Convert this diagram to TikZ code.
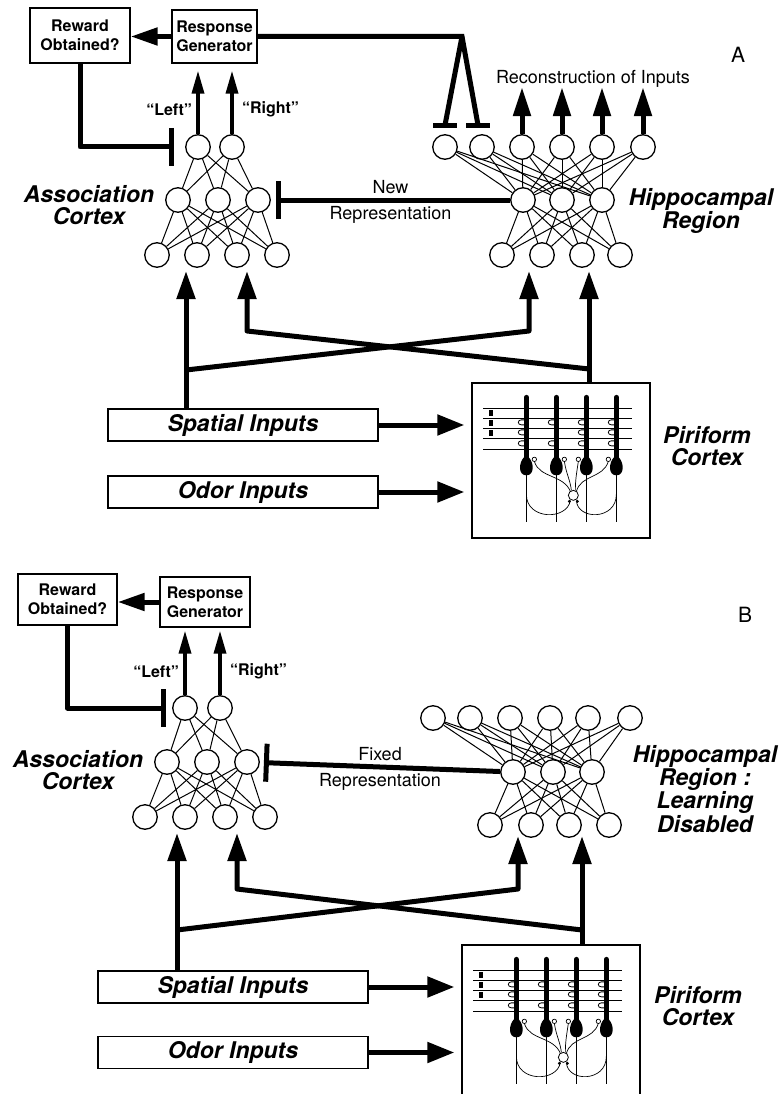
\documentclass[tikz,border=0pt]{standalone}
\usepackage{fontspec}
\setmainfont{TeX Gyre Heros}
\usetikzlibrary{arrows.meta}

\newcommand{\regionfont}{\fontsize{23}{22}\selectfont\bfseries\itshape}
\newcommand{\boxfont}{\fontsize{16}{19}\selectfont\bfseries}
\newcommand{\notefont}{\fontsize{18}{20}\selectfont}

\tikzset{
  unit/.style={circle, draw, line width=1.3pt, minimum size=24.5pt, inner sep=0pt},
  wire/.style={line width=1pt},
  heavy/.style={line width=5pt, line join=round},
  bigarrow/.style={heavy, -{Triangle[length=28pt, width=18pt]}},
  feedarrow/.style={heavy, shorten >=7pt, -{Triangle[length=27pt, width=20pt]}},
  outarrow/.style={line width=3.5pt, -{Triangle[length=23pt, width=12pt]}},
  inhib/.style={heavy, -{Bar[width=38pt]}},
  stage/.style={draw, line width=1.3pt, align=center, font=\boxfont, inner sep=0pt},
  inputbox/.style={draw, line width=1.3pt, minimum width=270pt, minimum height=32pt, inner sep=0pt, font=\regionfont},
  cortexbox/.style={draw, line width=1.3pt, minimum width=178pt, inner sep=0pt},
  region/.style={align=center, font=\regionfont, inner sep=0pt},
  note/.style={font=\notefont, inner sep=4pt},
  pics/cells/.style={code={
    % layers and input fibres
    \foreach \ly in {26,36,46,56} \draw[line width=0.7pt] (12,\ly) -- (161,\ly);
    \draw[line width=1.3pt] (12,67) -- (161,67);
    \foreach \ly in {28,38,48} \fill (18,\ly) rectangle (22,\ly+6);
    % pyramidal cells
    \foreach \cx in {55,85,115,145} {
      \draw[line width=5pt, line cap=round] (\cx,15) -- (\cx,80);
      \fill (\cx-2.5,75) -- (\cx+2.5,75) .. controls (\cx+8,81) and (\cx+8,93) .. (\cx,93) .. controls (\cx-8,93) and (\cx-8,81) .. (\cx-2.5,75) -- cycle;
      \draw[line width=0.8pt] (\cx,92) -- (\cx,140);
    }
    \foreach \cx/\hy in {55/40,55/50,55/61,85/40,85/61,115/40,115/50,115/61,145/40,145/50,145/61}
      \draw[line width=0.8pt] (\cx-2,\hy-2.5) -- (\cx-5,\hy-2.5) .. controls (\cx-9,\hy-2.5) and (\cx-9,\hy+2.5) .. (\cx-5,\hy+2.5) -- (\cx-2,\hy+2.5);
    % interneuron
    \draw[line width=0.7pt] (63,79) .. controls (68,96) and (92,92) .. (99,109);
    \draw[line width=0.7pt] (93,79) .. controls (95,92) and (99,98) .. (100,108);
    \draw[line width=0.7pt] (107,79) .. controls (105,92) and (104,98) .. (104,108);
    \draw[line width=0.7pt] (137,79) .. controls (132,96) and (110,92) .. (105,109);
    \draw[line width=0.7pt] (55,112) .. controls (55,138) and (96,138) .. (99,118);
    \draw[line width=0.7pt] (145,112) .. controls (145,138) and (106,138) .. (105,118);
    \foreach \sx in {63,93,107,137} \draw[line width=0.7pt, fill=white] (\sx,77) circle[radius=2.2];
    \draw[line width=0.8pt, fill=white] (102,113) circle[radius=5];
    \fill (98,119) circle[radius=1.6];
    \fill (106,119) circle[radius=1.6];
  }}
}

\begin{document}
\begin{tikzpicture}[x=1pt, y=-1pt]
  \useasboundingbox (0,0) rectangle (782,1094);
  \fill[white] (0,0) rectangle (782,1094);

  % ===== panel A =====
  \node (rwA) at (80, 35.5) [stage, minimum width=100pt, minimum height=55pt] {Reward\\Obtained?};
  \node (rgA) at (214.5, 36.5) [stage, minimum width=85pt, minimum height=53pt] {Response\\Generator};
  \node (labA) at (738, 55) [note, font=\fontsize{21}{21}\selectfont] {A};

  % association cortex
  \foreach \n/\x in {1/198,2/232} \node (aAt\n) at (\x,147) [unit] {};
  \foreach \n/\x in {1/178,2/218,3/258} \node (aAm\n) at (\x,200) [unit] {};
  \foreach \n/\x in {1/157,2/197,3/237,4/277} \node (aAb\n) at (\x,255) [unit] {};
  \foreach \i in {1,2} \foreach \j in {1,2,3} \draw[wire] (aAt\i) -- (aAm\j);
  \foreach \i in {1,2,3} \foreach \j in {1,...,4} \draw[wire] (aAm\i) -- (aAb\j);
  \node (acA) at (89,205) [region] {Association\\Cortex};

  % hippocampal region
  \foreach \n/\x in {1/445,2/482,3/522,4/562,5/602,6/643} \node (hAt\n) at (\x,147) [unit] {};
  \foreach \n/\x in {1/523,2/562,3/602} \node (hAm\n) at (\x,200) [unit] {};
  \foreach \n/\x in {1/502,2/542,3/582,4/620} \node (hAb\n) at (\x,255) [unit] {};
  \foreach \i in {1,...,6} \foreach \j in {1,2,3} \draw[wire] (hAt\i) -- (hAm\j);
  \foreach \i in {1,2,3} \foreach \j in {1,...,4} \draw[wire] (hAm\i) -- (hAb\j);
  \node (hrA) at (701,211) [region] {Hippocampal\\Region};

  % responses and feedback
  \draw[outarrow, shorten >=7pt] (aAt1) -- (aAt1 |- rgA.south) node[pos=0.35, left=1pt, font=\boxfont] {“Left”};
  \draw[outarrow, shorten >=7pt] (aAt2) -- (aAt2 |- rgA.south) node[pos=0.35, right=5pt, font=\boxfont] {“Right”};
  \draw[heavy, -{Triangle[length=27pt, width=17pt]}] (rgA.west) -- (rgA.west -| rwA.east);
  \draw[inhib, shorten >=11pt] (rwA.south) |- (aAt1);

  \coordinate (apxA) at (462,36.5);
  \coordinate (barA1) at ([yshift=9pt]hAt1.north);
  \coordinate (barA2) at ([yshift=9pt, xshift=-4pt]hAt2.north);
  \draw[heavy, line join=miter] (rgA.east) -- (apxA) -- (barA2);
  \draw[heavy] (apxA) -- (barA1);
  \draw[heavy] ([xshift=-12pt]barA1) -- ([xshift=12pt]barA1);
  \draw[heavy] ([xshift=-12pt]barA2) -- ([xshift=12pt]barA2);

  \foreach \i in {3,...,6} \draw[heavy, -{Triangle[length=29pt, width=17pt]}] (hAt\i.north) -- ++(0,-47);
  \node (recA) at (593,79) [note] {Reconstruction of Inputs};

  \draw[inhib, shorten >=5pt] (hAm1) -- (aAm3)
    node[midway, above, note] {New}
    node[midway, below, note] {Representation};

  % inputs
  \node (spaA) at (243,425) [inputbox] {Spatial Inputs};
  \node (odoA) at (243,492) [inputbox] {Odor Inputs};
  \node (pirA) at (561,460.5) [cortexbox, minimum height=155pt] {};
  \pic at (pirA.north west) {cells};
  \node (pclA) at (707,446) [region] {Piriform\\Cortex};
  \draw[feedarrow] (spaA.east) -- (spaA.east -| pirA.west);
  \draw[feedarrow] (odoA.east) -- (odoA.east -| pirA.west);

  \coordinate (tipA1) at (186,271);
  \coordinate (tipA2) at (529,271);
  \coordinate (tipA3) at (247,271);
  \coordinate (tipA4) at (589,271);
  \coordinate (jnA1) at (186,370);
  \coordinate (jnA4) at (589,369);
  \coordinate (knA2) at (529,331);
  \coordinate (knA3) at (247,331);
  \draw[bigarrow] (spaA.north -| tipA1) -- (tipA1);
  \draw[bigarrow] (jnA1) -- (knA2) -- (tipA2);
  \draw[bigarrow] (pirA.north -| tipA4) -- (tipA4);
  \draw[bigarrow] (jnA4) -- (knA3) -- (tipA3);

  % ===== panel B =====
  \node (rwB) at (67.5, 599.5) [stage, minimum width=99pt, minimum height=51pt] {Reward\\Obtained?};
  \node (rgB) at (205, 602) [stage, minimum width=90pt, minimum height=50pt] {Response\\Generator};
  \node (labB) at (745, 615) [note, font=\fontsize{21}{21}\selectfont] {B};

  % association cortex
  \foreach \n/\x in {1/185,2/220} \node (aBt\n) at (\x,708) [unit] {};
  \foreach \n/\x in {1/167,2/207,3/247} \node (aBm\n) at (\x,762) [unit] {};
  \foreach \n/\x in {1/145,2/185,3/225,4/265} \node (aBb\n) at (\x,817) [unit] {};
  \foreach \i in {1,2} \foreach \j in {1,2,3} \draw[wire] (aBt\i) -- (aBm\j);
  \foreach \i in {1,2,3} \foreach \j in {1,...,4} \draw[wire] (aBm\i) -- (aBb\j);
  \node (acB) at (78,770) [region] {Association\\Cortex};

  % hippocampal region, learning off
  \foreach \n/\x in {1/433,2/470,3/510,4/550,5/588,6/630} \node (hBt\n) at (\x,718) [unit] {};
  \foreach \n/\x in {1/513,2/553,3/592} \node (hBm\n) at (\x,772) [unit] {};
  \foreach \n/\x in {1/490,2/531,3/569,4/609} \node (hBb\n) at (\x,825) [unit] {};
  \foreach \i in {1,...,6} \foreach \j in {1,2,3} \draw[wire] (hBt\i) -- (hBm\j);
  \foreach \i in {1,2,3} \foreach \j in {1,...,4} \draw[wire] (hBm\i) -- (hBb\j);
  \node (hrB) at (705,789) [region, font=\fontsize{23}{21}\selectfont\bfseries\itshape] {Hippocampal\\Region :\\Learning\\Disabled};

  % responses and feedback
  \draw[outarrow, shorten >=3pt] (aBt1) -- (aBt1 |- rgB.south) node[pos=0.35, left=1pt, font=\boxfont] {“Left”};
  \draw[outarrow, shorten >=3pt] (aBt2) -- (aBt2 |- rgB.south) node[pos=0.35, right=5pt, font=\boxfont] {“Right”};
  \draw[heavy, -{Triangle[length=27pt, width=17pt]}] (rgB.west) -- (rgB.west -| rwB.east);
  \draw[inhib, shorten >=6pt] (rwB.south) |- (aBt1);

  \draw[inhib, shorten >=4pt] (hBm1) -- (aBm3)
    node[midway, above, note] {Fixed}
    node[midway, below, note] {Representation};

  % inputs
  \node (spaB) at (233,987) [inputbox] {Spatial Inputs};
  \node (odoB) at (233,1052.5) [inputbox] {Odor Inputs};
  \node (pirB) at (551,1022) [cortexbox, minimum height=154pt] {};
  \pic at (pirB.north west) {cells};
  \node (pclB) at (698,1006) [region] {Piriform\\Cortex};
  \draw[feedarrow] (spaB.east) -- (spaB.east -| pirB.west);
  \draw[feedarrow] (odoB.east) -- (odoB.east -| pirB.west);

  \coordinate (tipB1) at (177,833);
  \coordinate (tipB2) at (518,836);
  \coordinate (tipB3) at (237,833);
  \coordinate (tipB4) at (582,836);
  \coordinate (jnB1) at (177,930);
  \coordinate (jnB4) at (582,930);
  \coordinate (knB2) at (518,889);
  \coordinate (knB3) at (237,889);
  \draw[bigarrow] (spaB.north -| tipB1) -- (tipB1);
  \draw[bigarrow] (jnB1) -- (knB2) -- (tipB2);
  \draw[bigarrow] (pirB.north -| tipB4) -- (tipB4);
  \draw[bigarrow] (jnB4) -- (knB3) -- (tipB3);
\end{tikzpicture}
\end{document}
